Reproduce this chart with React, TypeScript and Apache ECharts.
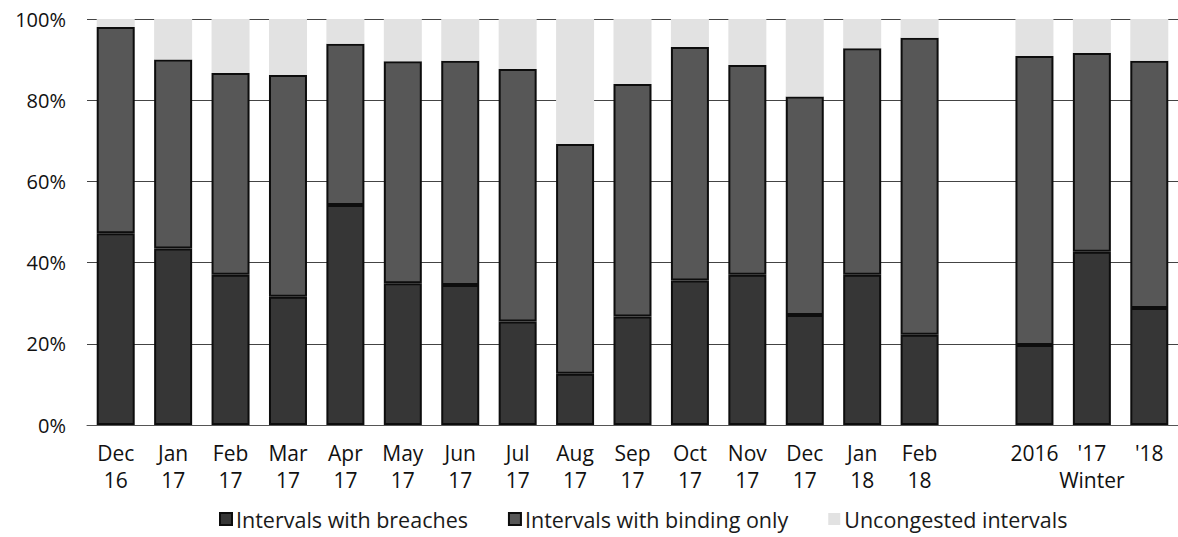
import React, { useEffect, useRef } from "react";
import * as echarts from "echarts";

const categories = [
  "Dec\n16", "Jan\n17", "Feb\n17", "Mar\n17", "Apr\n17", "May\n17", "Jun\n17", "Jul\n17",
  "Aug\n17", "Sep\n17", "Oct\n17", "Nov\n17", "Dec\n17", "Jan\n18", "Feb\n18", "",
  "2016", "'17\nWinter", "'18",
];

const breaches = [47.2, 43.5, 37.0, 31.6, 54.2, 34.9, 34.5, 25.5, 12.6, 26.7, 35.6, 37.0, 27.1, 37.0, 22.2, null, 19.7, 42.7, 28.8];
const bindingOnly = [50.8, 46.5, 49.7, 54.6, 39.7, 54.7, 55.2, 62.2, 56.6, 57.3, 57.5, 51.7, 53.8, 55.8, 73.2, null, 71.2, 48.9, 60.9];
const uncongested = [2.0, 10.0, 13.3, 13.8, 6.1, 10.4, 10.3, 12.3, 30.8, 16.0, 6.9, 11.3, 19.1, 7.2, 4.6, null, 9.1, 8.4, 10.3];

const seriesNames = ["Intervals with breaches", "Intervals with binding only", "Uncongested intervals"];
const yTicks = { min: 0, max: 100, interval: 20 };

const FONT = "'Open Sans', 'Noto Sans', sans-serif";

export default function App() {
  const ref = useRef<HTMLDivElement>(null);
  useEffect(() => {
    if (!ref.current) return;
    const chart = echarts.init(ref.current, null, { renderer: "svg" });
    const barBase = { type: "bar", stack: "total", barWidth: 38 };
    chart.setOption({
      animation: false,
      backgroundColor: "#ffffff",
      textStyle: { fontFamily: FONT },
      grid: { left: 87, right: 0, top: 19, bottom: 112, containLabel: false },
      legend: {
        left: 214,
        top: 503,
        itemWidth: 12,
        itemHeight: 12,
        itemGap: 40,
        icon: "rect",
        textStyle: { fontSize: 21.5, color: "#1a1a1a", fontFamily: FONT, padding: [0, 0, 0, -1] },
        data: seriesNames,
      },
      xAxis: {
        type: "category",
        data: categories,
        axisTick: { show: false },
        axisLine: { show: true, lineStyle: { color: "#555", width: 1 } },
        axisLabel: {
          interval: 0,
          color: "#111",
          fontSize: 21,
          lineHeight: 27,
          margin: 14,
          fontFamily: FONT,
        },
      },
      yAxis: {
        type: "value",
        min: yTicks.min,
        max: yTicks.max,
        interval: yTicks.interval,
        axisLine: { show: false },
        axisTick: { show: false },
        splitLine: { lineStyle: { color: "#444", width: 1 } },
        axisLabel: {
          formatter: "{value}%",
          color: "#111",
          fontSize: 20,
          margin: 21,
          fontFamily: FONT,
        },
      },
      series: [
        {
          ...barBase,
          name: seriesNames[0],
          data: breaches,
          itemStyle: { color: "#363636", borderColor: "#0d0d0d", borderWidth: 2 },
        },
        {
          ...barBase,
          name: seriesNames[1],
          data: bindingOnly,
          itemStyle: { color: "#575757", borderColor: "#0d0d0d", borderWidth: 2 },
        },
        {
          ...barBase,
          name: seriesNames[2],
          data: uncongested,
          itemStyle: { color: "#e2e2e2", borderColor: "#d0d0d0", borderWidth: 0 },
        },
      ],
    });
    return () => chart.dispose();
  }, []);
  return (
    <div
      ref={ref}
      style={{ position: "fixed", left: 0, top: 0, width: 1178, height: 537, background: "#fff" }}
    />
  );
}
